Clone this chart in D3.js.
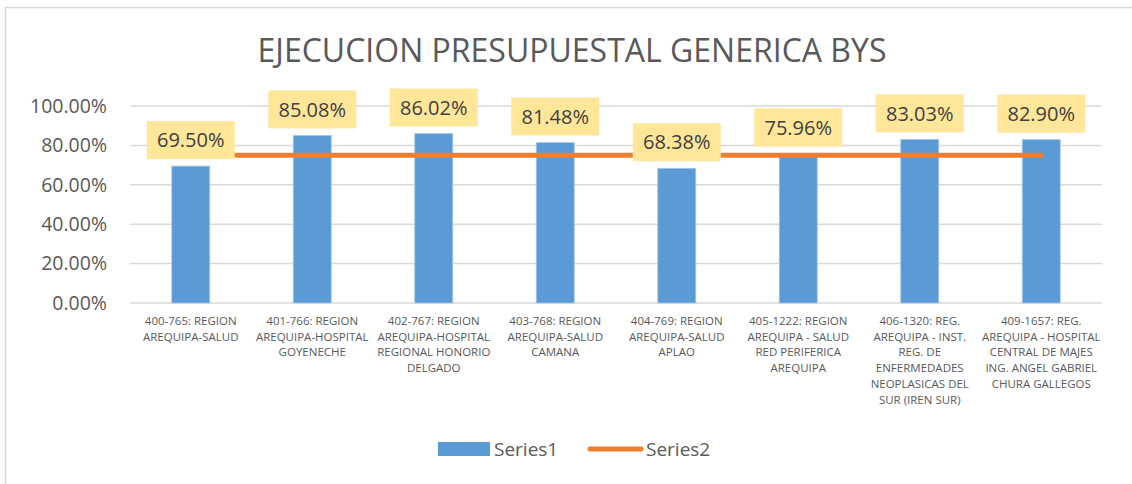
<!DOCTYPE html>
<html>
<head>
<meta charset="utf-8">
<script src="https://cdn.jsdelivr.net/npm/d3@7"></script>
<style>
  body { margin: 0; background: #fff; }
  text { font-family: 'Open Sans', sans-serif; }
</style>
</head>
<body>
<svg id="chart" width="1132" height="484"></svg>
<script>
const title = 'EJECUCION PRESUPUESTAL GENERICA BYS'
const categories = [
  '400-765: REGION\nAREQUIPA-SALUD',
  '401-766: REGION\nAREQUIPA-HOSPITAL\nGOYENECHE',
  '402-767: REGION\nAREQUIPA-HOSPITAL\nREGIONAL HONORIO\nDELGADO',
  '403-768: REGION\nAREQUIPA-SALUD\nCAMANA',
  '404-769: REGION\nAREQUIPA-SALUD\nAPLAO',
  '405-1222: REGION\nAREQUIPA - SALUD\nRED PERIFERICA\nAREQUIPA',
  '406-1320: REG.\nAREQUIPA - INST.\nREG. DE\nENFERMEDADES\nNEOPLASICAS DEL\nSUR (IREN SUR)',
  '409-1657: REG.\nAREQUIPA - HOSPITAL\nCENTRAL DE MAJES\nING. ANGEL GABRIEL\nCHURA GALLEGOS'
]
const series1 = [0.6950, 0.8508, 0.8602, 0.8148, 0.6838, 0.7596, 0.8303, 0.8290]
const series2 = [0.75, 0.75, 0.75, 0.75, 0.75, 0.75, 0.75, 0.75]
const yTicks = [0, 0.2, 0.4, 0.6, 0.8, 1.0]
const legendNames = ['Series1', 'Series2']

const blue = '#5b9bd5'
const orange = '#ed7d31'
const labelFill = '#ffe699'
const grey = '#595959'

const svg = d3.select('#chart')
const margin = { left: 130, right: 30, top: 106, bottom: 181 }
const width = 1132
const height = 484

// chart frame
svg.append('rect')
  .attr('x', 5.5).attr('y', 7.5)
  .attr('width', 1140).attr('height', 490)
  .attr('fill', '#fff')
  .attr('stroke', '#d9d9d9')
  .attr('stroke-width', 1.5)

svg.append('text')
  .attr('x', 572).attr('y', 62)
  .attr('text-anchor', 'middle')
  .attr('font-size', '32px')
  .attr('fill', grey)
  .text(title)

const x = d3.scaleBand()
  .domain(categories)
  .range([margin.left, width - margin.right])

const y = d3.scaleLinear()
  .domain([0, 1])
  .range([height - margin.bottom, margin.top])

const pct = d3.format('.2%')

// gridlines
svg.append('g')
  .selectAll('line')
  .data(yTicks)
  .join('line')
  .attr('x1', margin.left).attr('x2', width - margin.right)
  .attr('y1', d => y(d)).attr('y2', d => y(d))
  .attr('stroke', '#d9d9d9')
  .attr('stroke-width', 1.5)

const yAxis = svg.append('g')
  .attr('transform', `translate(${margin.left - 23},0)`)
  .call(d3.axisLeft(y).tickValues(yTicks).tickFormat(pct).tickSize(0).tickPadding(0))
yAxis.select('.domain').remove()
yAxis.selectAll('text')
  .attr('font-family', "'Open Sans', sans-serif")
  .attr('font-size', '19.5px')
  .attr('fill', grey)

// bars
const barW = 38
svg.append('g')
  .selectAll('rect')
  .data(series1)
  .join('rect')
  .attr('x', (d, i) => x(categories[i]) + x.bandwidth() / 2 - barW / 2)
  .attr('y', d => y(d))
  .attr('width', barW)
  .attr('height', d => y(0) - y(d))
  .attr('fill', blue)
  .attr('stroke', '#a9c8e8')
  .attr('stroke-width', 0.8)

// category labels
const xl = svg.append('g')
  .selectAll('text')
  .data(categories)
  .join('text')
  .attr('text-anchor', 'middle')
  .attr('font-size', '11.5px')
  .attr('fill', grey)
xl.each(function (d) {
  const t = d3.select(this)
  d.split('\n').forEach((line, k) => {
    t.append('tspan')
      .attr('x', x(d) + x.bandwidth() / 2)
      .attr('y', 325 + k * 15.7)
      .text(line)
  })
})

// series2 line
const line = d3.line()
  .x((d, i) => x(categories[i]) + x.bandwidth() / 2)
  .y(d => y(d))
svg.append('path')
  .datum(series2)
  .attr('d', line)
  .attr('fill', 'none')
  .attr('stroke', orange)
  .attr('stroke-width', 5)
  .attr('stroke-linecap', 'round')

// data labels
const lbl = svg.append('g')
  .selectAll('g')
  .data(series1)
  .join('g')
  .attr('transform', (d, i) => `translate(${x(categories[i]) + x.bandwidth() / 2},${y(d) - 26})`)
lbl.append('rect')
  .attr('x', -44).attr('y', -19)
  .attr('width', 88).attr('height', 38)
  .attr('fill', labelFill)
lbl.append('text')
  .attr('text-anchor', 'middle')
  .attr('dy', '0.36em')
  .attr('font-size', '20px')
  .attr('fill', '#404040')
  .text(d => pct(d))

// legend
const lg = svg.append('g')
lg.append('rect')
  .attr('x', 438).attr('y', 442)
  .attr('width', 52).attr('height', 14)
  .attr('fill', blue)
lg.append('text')
  .attr('x', 494).attr('y', 449).attr('dy', '0.36em')
  .attr('font-size', '19px').attr('fill', grey)
  .text(legendNames[0])
lg.append('line')
  .attr('x1', 590).attr('x2', 641)
  .attr('y1', 449).attr('y2', 449)
  .attr('stroke', orange).attr('stroke-width', 5)
  .attr('stroke-linecap', 'round')
lg.append('text')
  .attr('x', 646).attr('y', 449).attr('dy', '0.36em')
  .attr('font-size', '19px').attr('fill', grey)
  .text(legendNames[1])
</script>
</body>
</html>
